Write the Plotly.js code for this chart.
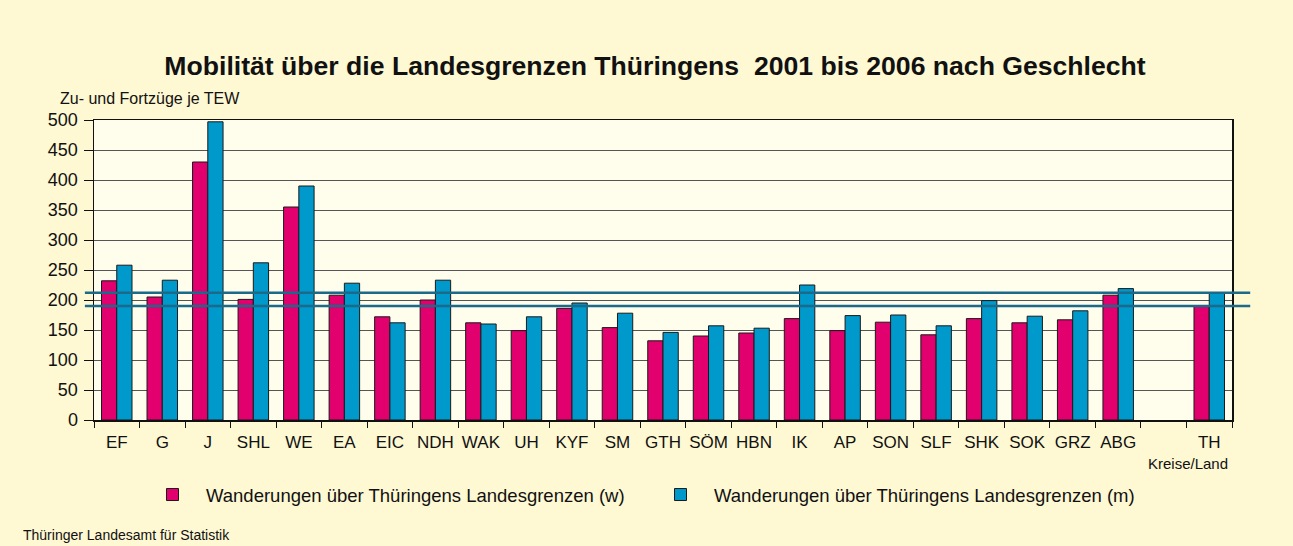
<!DOCTYPE html>
<html>
<head>
<meta charset="utf-8">
<script src="https://cdn.plot.ly/plotly-3.0.1.min.js"></script>
<style>html,body{margin:0;padding:0;background:#fef8d3;}#chart{width:1293px;height:546px;}</style>
</head>
<body>
<div id="chart"></div>
<script>
const categories = ['EF','G','J','SHL','WE','EA','EIC','NDH','WAK','UH','KYF','SM','GTH','SÖM','HBN','IK','AP','SON','SLF','SHK','SOK','GRZ','ABG',' ','TH'];
const valuesW = [232,205,430,201,355,208,172,200,162,149,186,154,132,140,145,169,149,163,142,169,162,167,208,null,190];
const valuesM = [258,233,497,262,390,228,162,233,160,172,195,178,146,157,153,225,174,175,157,199,173,182,219,null,212];
const seriesNames = ['Wanderungen über Thüringens Landesgrenzen (w)','Wanderungen über Thüringens Landesgrenzen (m)'];
const yTicks = [0,50,100,150,200,250,300,350,400,450,500];
const refLines = [valuesW[valuesW.length-1], valuesM[valuesM.length-1]];

const font = 'Liberation Sans, Arial, sans-serif';
const traces = [
  {type:'bar', x:categories, y:valuesW, name:seriesNames[0],
   marker:{color:'#e2006e', line:{color:'#1a1a1a', width:1}}},
  {type:'bar', x:categories, y:valuesM, name:seriesNames[1],
   marker:{color:'#0099cc', line:{color:'#1a1a1a', width:1}}}
];
const shapes = refLines.map(v => ({type:'line', xref:'paper', yref:'y', x0:-0.008, x1:1.016, y0:v, y1:v,
  line:{color:'#1b6a8a', width:2.5}, layer:'above'}));

const layout = {
  width:1293, height:546,
  paper_bgcolor:'#fef8d3', plot_bgcolor:'#fffdeb',
  margin:{l:94, r:61, t:120, b:126},
  font:{family:font, color:'#111'},
  title:{text:'<b>Mobilität über die Landesgrenzen Thüringens  2001 bis 2006 nach Geschlecht</b>',
    font:{size:26.6, family:font, color:'#111'}, x:655/1293, xanchor:'center', y:1-66/546, yref:'container', yanchor:'middle'},
  barmode:'group', bargap:0.33, bargroupgap:0,
  xaxis:{type:'category', categoryorder:'array', categoryarray:categories, range:[-0.5,24.5],
    tickson:'boundaries', ticks:'outside', ticklen:6, tickcolor:'#111', tickwidth:1, tickangle:0,
    ticklabelstandoff:6,
    showline:true, linecolor:'#111', linewidth:1.5, mirror:true, showgrid:false,
    tickfont:{size:17, family:font, color:'#111'}, fixedrange:true},
  yaxis:{range:[0,500], tickvals:yTicks, ticks:'outside', ticklen:9, tickcolor:'#111',
    showline:true, linecolor:'#111', linewidth:1.5, mirror:true,
    showgrid:true, gridcolor:'#555', gridwidth:1, zeroline:false,
    tickfont:{size:18, family:font, color:'#111'}, ticklabelstandoff:2},
  shapes:shapes,
  showlegend:true,
  legend:{orientation:'h', x:(139-94)/1138, xanchor:'left', y:-0.25, yanchor:'middle',
    font:{size:18.5, family:font, color:'#111'}, bgcolor:'rgba(0,0,0,0)', entrywidth:436, entrywidthmode:'pixels',
    itemwidth:57, traceorder:'normal'},
  annotations:[
    {text:'Zu- und Fortzüge je TEW', xref:'paper', yref:'paper', x:(58-94)/1138, y:(420-99)/300,
      xanchor:'left', yanchor:'middle', showarrow:false, font:{size:16, family:font, color:'#111'}},
    {text:'Kreise/Land', xref:'paper', yref:'paper', x:(1230-94)/1138, y:(420-463)/300,
      xanchor:'right', yanchor:'middle', showarrow:false, font:{size:15, family:font, color:'#111'}},
    {text:'Thüringer Landesamt für Statistik', xref:'paper', yref:'paper', x:(21-94)/1138, y:(420-535)/300,
      xanchor:'left', yanchor:'middle', showarrow:false, font:{size:14, family:font, color:'#111'}}
  ]
};
Plotly.newPlot('chart', traces, layout, {displayModeBar:false, staticPlot:true});
</script>
</body>
</html>
